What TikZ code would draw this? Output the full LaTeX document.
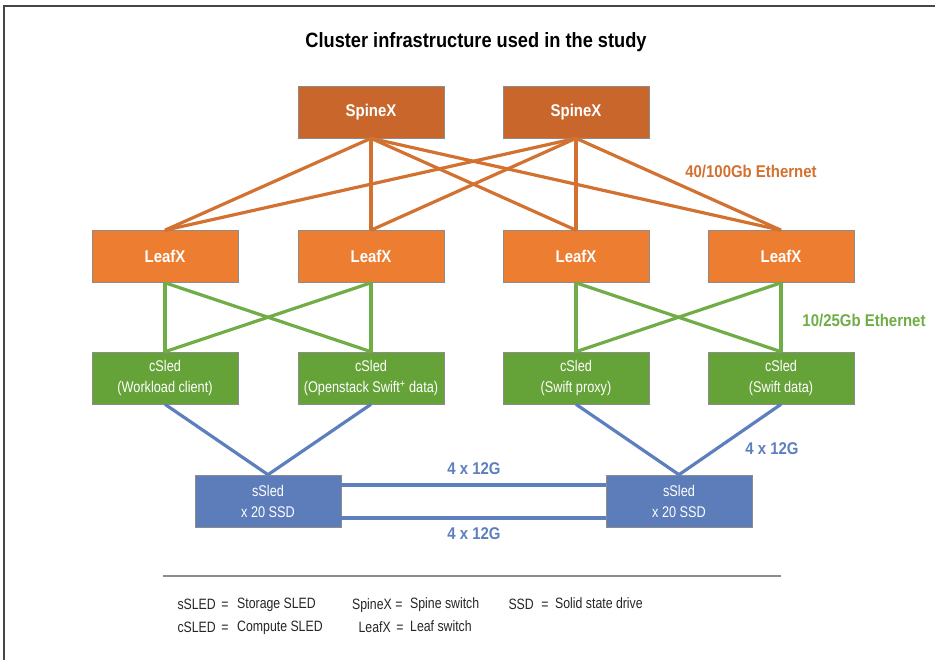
\documentclass[tikz,border=0pt]{standalone}
\usepackage{fontspec}
\setmainfont{Liberation Sans}[FakeStretch=0.88]
\newfontfamily\narrowfont{Liberation Sans}[FakeStretch=0.82]
\definecolor{spinefill}{RGB}{201,102,43}
\definecolor{leaffill}{RGB}{236,125,49}
\definecolor{orangeline}{RGB}{210,113,48}
\definecolor{greenfill}{RGB}{101,163,57}
\definecolor{greenline}{RGB}{112,173,71}
\definecolor{bluefill}{RGB}{92,125,186}
\definecolor{blueline}{RGB}{93,127,190}
\definecolor{framegray}{RGB}{70,70,70}
\begin{document}
\begin{tikzpicture}[x=1pt,y=-1pt,
  box/.style={minimum width=146pt,minimum height=52pt,inner sep=0pt,text=white,align=center,draw=black!45,line width=0.6pt},
  spinebox/.style={box,fill=spinefill,font=\bfseries\fontsize{17}{20}\selectfont},
  leafbox/.style={box,fill=leaffill,font=\bfseries\fontsize{17}{20}\selectfont},
  csledbox/.style={box,fill=greenfill,font=\narrowfont\fontsize{15.5}{21}\selectfont},
  ssledbox/.style={box,fill=bluefill,font=\narrowfont\fontsize{15.5}{21}\selectfont},
  oline/.style={orangeline,line width=3.2pt},
  gline/.style={greenline,line width=3.2pt},
  bline/.style={blueline,line width=3.2pt},
  lbl/.style={font=\bfseries\fontsize{17}{20}\selectfont,inner sep=0pt},
  leg/.style={font=\narrowfont\fontsize{15}{18}\selectfont,inner sep=0pt,text=black!85},
  legkey/.style={leg,anchor=base east},
  legeq/.style={leg,anchor=base},
  legdef/.style={leg,anchor=base west}
]
\useasboundingbox (0,0) rectangle (935,660);
% frame
\draw[framegray,line width=1.6pt] (4,660) -- (4,6) -- (935,6);
% title
\node[font=\bfseries\fontsize{20.7}{24}\selectfont] (title) at (476,42) {Cluster infrastructure used in the study};
% spines
\node[spinebox] (sp1) at (371,112) {SpineX};
\node[spinebox] (sp2) at (576,112) {SpineX};
% leaves
\node[leafbox] (lf1) at (165,256.5) {LeafX};
\node[leafbox] (lf2) at (371,256.5) {LeafX};
\node[leafbox] (lf3) at (576,256.5) {LeafX};
\node[leafbox] (lf4) at (781,256.5) {LeafX};
% csleds
\node[csledbox] (cs1) at (165,378) {cSled\\(Workload client)};
\node[csledbox] (cs2) at (371,378) {cSled\\(Openstack Swift\textsuperscript{+} data)};
\node[csledbox] (cs3) at (576,378) {cSled\\(Swift proxy)};
\node[csledbox] (cs4) at (781,378) {cSled\\(Swift data)};
% ssleds
\node[ssledbox] (ss1) at (268,501) {sSled\\x 20 SSD};
\node[ssledbox] (ss2) at (679,501) {sSled\\x 20 SSD};
% spine-leaf links
\foreach \s in {sp1,sp2}{
  \foreach \l in {lf1,lf2,lf3,lf4}{
    \draw[oline] (\s.south) -- (\l.north);
  }
}
\foreach \l in {lf1,lf2}{
  \foreach \c in {cs1,cs2}{
    \draw[gline] (\l.south) -- (\c.north);
  }
}
\foreach \l in {lf3,lf4}{
  \foreach \c in {cs3,cs4}{
    \draw[gline] (\l.south) -- (\c.north);
  }
}
\draw[bline] (cs1.south) -- (ss1.north);
\draw[bline] (cs2.south) -- (ss1.north);
\draw[bline] (cs3.south) -- (ss2.north);
\draw[bline] (cs4.south) -- (ss2.north);
\draw[bline] ([yshift=16pt]ss1.east) -- ([yshift=16pt]ss2.west);
\draw[bline] ([yshift=-17pt]ss1.east) -- ([yshift=-17pt]ss2.west);
% labels
\node[lbl,text=orangeline] (eth40) at (751,172) {40/100Gb Ethernet};
\node[lbl,text=greenline] (eth10) at (864,321) {10/25Gb Ethernet};
\node[lbl,text=blueline] (g1) at (474,469) {4 x 12G};
\node[lbl,text=blueline] (g2) at (474,534) {4 x 12G};
\node[lbl,text=blueline] (g3) at (772,449) {4 x 12G};
% separator
\coordinate (sepL) at (163,576);
\coordinate (sepR) at (781,576);
\draw[black!45,line width=1.4pt] (sepL) -- (sepR);
% legend
\node[legkey] (k1) at (216,609) {sSLED};
\node[legeq]  (e1) at (225,609) {=};
\node[legdef] (d1) at (237,608) {Storage SLED};
\node[legkey] (k2) at (216,632) {cSLED};
\node[legeq]  (e2) at (225,632) {=};
\node[legdef] (d2) at (237,631) {Compute SLED};
\node[legkey] (k3) at (392,609) {SpineX};
\node[legeq]  (e3) at (399,609) {=};
\node[legdef] (d3) at (410,608) {Spine switch};
\node[legkey] (k4) at (391,632) {LeafX};
\node[legeq]  (e4) at (400,632) {=};
\node[legdef] (d4) at (410,631) {Leaf switch};
\node[legkey] (k5) at (534,609) {SSD};
\node[legeq]  (e5) at (545,609) {=};
\node[legdef] (d5) at (555,608) {Solid state drive};
\end{tikzpicture}
\end{document}
